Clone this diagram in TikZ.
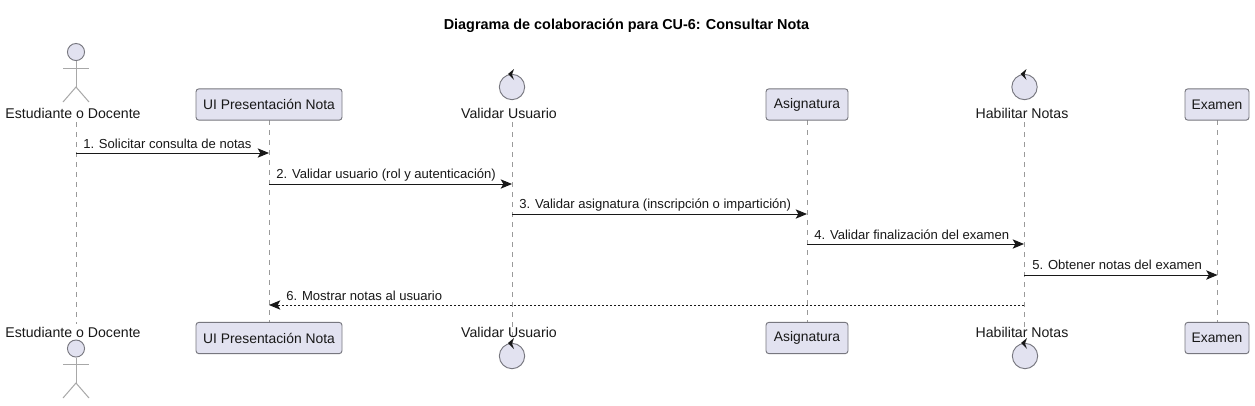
\documentclass[tikz,border=0pt]{standalone}
\usepackage{fontspec}
\setmainfont{Liberation Sans}
\usetikzlibrary{arrows.meta,calc}
\definecolor{partfill}{HTML}{E2E2F0}
\definecolor{partline}{HTML}{77777F}
\definecolor{lifeline}{HTML}{9A9A9A}
\definecolor{ink}{HTML}{181818}
\definecolor{actline}{HTML}{A8A8A8}
\tikzset{
  x=0.75pt,y=-0.75pt,
  partbox/.style={draw=partline,fill=partfill,line width=0.7pt,rounded corners=2.2pt,minimum height=23.5pt,inner sep=0pt,font=\fontsize{10.4}{12}\selectfont,text=ink},
  partlabel/.style={inner sep=0pt,font=\fontsize{10.6}{12}\selectfont,text=ink},
  lifel/.style={draw=lifeline,line width=0.7pt,dash pattern=on 3.75pt off 3.75pt},
  msg/.style={draw=ink,line width=0.75pt,-{Stealth[length=8.5pt,width=7pt,inset=2pt]}},
  msgret/.style={msg,dash pattern=on 1.5pt off 1.5pt},
  msglabel/.style={inner sep=0pt,font=\fontsize{9.8}{11}\selectfont,text=ink,anchor=base west},
  head/.style={circle,draw=partline,fill=partfill,line width=0.7pt,inner sep=0pt,minimum size=12.8pt},
  ctrl/.style={circle,draw=partline,fill=partfill,line width=0.7pt,inner sep=0pt,minimum size=19pt},
  limb/.style={draw=actline,line width=0.75pt},
  ctrltip/.style={fill=ink,draw=none},
}
\begin{document}
\begin{tikzpicture}
\useasboundingbox (0,0) rectangle (1255,405);
\fill[white] (0,0) rectangle (1255,405);
% anchors of the lifelines
\coordinate (atop) at (76,122);  \coordinate (abot) at (76,324);
\coordinate (utop) at (269,120); \coordinate (ubot) at (269,322);
\coordinate (vtop) at (512,122); \coordinate (vbot) at (512,344);
\coordinate (stop) at (807,120); \coordinate (sbot) at (807,322);
\coordinate (htop) at (1024,122);\coordinate (hbot) at (1024,344);
\coordinate (etop) at (1217.5,120);\coordinate (ebot) at (1217.5,322);
\draw[lifel] (atop) -- (abot);
\draw[lifel] (utop) -- (ubot);
\draw[lifel] (vtop) -- (vbot);
\draw[lifel] (stop) -- (sbot);
\draw[lifel] (htop) -- (hbot);
\draw[lifel] (etop) -- (ebot);
% title
\node[inner sep=0pt,font=\fontsize{10.8}{12}\bfseries\selectfont,text=black] (title) at (626.5,26) {Diagrama de colaboración para CU-6: Consultar Nota};
% top actor
\node[partlabel] (alabT) at (73,113) {Estudiante o Docente};
\node[head] (aheadT) at (76,52) {};
\coordinate (ahipT) at (76,87);
\coordinate (alarmT) at (63,68); \coordinate (ararmT) at (89,68);
\coordinate (allegT) at (63,102); \coordinate (arlegT) at (89,102);
\draw[limb] (aheadT) -- (ahipT);
\draw[limb] (alarmT) -- (ararmT);
\draw[limb] (allegT) -- (ahipT) -- (arlegT);
% bottom actor
\node[partlabel] (alabB) at (73,332) {Estudiante o Docente};
\node[head] (aheadB) at (76,348.5) {};
\coordinate (ahipB) at (76,383);
\coordinate (alarmB) at (63,364); \coordinate (ararmB) at (89,364);
\coordinate (allegB) at (63,398); \coordinate (arlegB) at (89,398);
\draw[limb] (aheadB) -- (ahipB);
\draw[limb] (alarmB) -- (ararmB);
\draw[limb] (allegB) -- (ahipB) -- (arlegB);
% boxes
\node[partbox,minimum width=109.5pt] (uT) at (269,104.5) {UI Presentación Nota};
\node[partbox,minimum width=109.5pt] (uB) at (269,338) {UI Presentación Nota};
\node[partbox,minimum width=61.5pt] (sT) at (807,104.5) {Asignatura};
\node[partbox,minimum width=61.5pt] (sB) at (807,338) {Asignatura};
\node[partbox,minimum width=48pt] (eT) at (1217,104.5) {Examen};
\node[partbox,minimum width=48pt] (eB) at (1217,338) {Examen};
% controls
\node[ctrl] (vT) at (512,87) {};
\node[ctrl] (hT) at (1024.5,87) {};
\node[ctrl] (vB) at (512,356) {};
\node[ctrl] (hB) at (1025,356) {};
\fill[ctrltip] (508,74) -- (514,69) -- (512,74.5) -- (514,80) -- cycle;
\fill[ctrltip] (1020.5,74) -- (1026.5,69) -- (1024.5,74.5) -- (1026.5,80) -- cycle;
\fill[ctrltip] (508,343) -- (514,338) -- (512,343.5) -- (514,349) -- cycle;
\fill[ctrltip] (1021,343) -- (1027,338) -- (1025,343.5) -- (1027,349) -- cycle;
\node[partlabel] (vlabT) at (509,113) {Validar Usuario};
\node[partlabel] (hlabT) at (1022,113) {Habilitar Notas};
\node[partlabel] (vlabB) at (509,332) {Validar Usuario};
\node[partlabel] (hlabB) at (1022,332) {Habilitar Notas};
% messages
\coordinate (m1a) at (76,153);  \coordinate (m1b) at (269,153);
\coordinate (m2a) at (269,184); \coordinate (m2b) at (512,184);
\coordinate (m3a) at (512,214); \coordinate (m3b) at (807,214);
\coordinate (m4a) at (807,244); \coordinate (m4b) at (1024,244);
\coordinate (m5a) at (1024,275);\coordinate (m5b) at (1217.5,275);
\coordinate (m6a) at (1024,305);\coordinate (m6b) at (269,305);
\draw[msg] (m1a) -- (m1b);
\draw[msg] (m2a) -- (m2b);
\draw[msg] (m3a) -- (m3b);
\draw[msg] (m4a) -- (m4b);
\draw[msg] (m5a) -- (m5b);
\draw[msgret] (m6a) -- (m6b);
\node[msglabel] (l1) at (83,148.5) {1. Solicitar consulta de notas};
\node[msglabel] (l2) at (276,178.5) {2. Validar usuario (rol y autenticación)};
\node[msglabel] (l3) at (519,208.5) {3. Validar asignatura (inscripción o impartición)};
\node[msglabel] (l4) at (814,239.5) {4. Validar finalización del examen};
\node[msglabel] (l5) at (1032,269.5) {5. Obtener notas del examen};
\node[msglabel] (l6) at (286,300.5) {6. Mostrar notas al usuario};
\end{tikzpicture}
\end{document}
